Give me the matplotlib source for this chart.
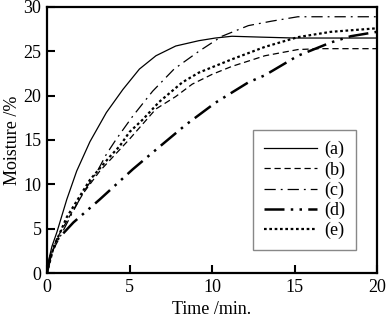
import numpy as np
import matplotlib
matplotlib.use("Agg")
import matplotlib.pyplot as plt

plt.rcParams['font.family'] = ['Liberation Serif', 'DejaVu Serif']

# moisture curves (time in min, moisture in %)
t_a = [0, 0.06, 0.3, 0.6, 1.2, 1.8, 2.6, 3.6, 4.6, 5.6, 6.6, 7.8, 9.2, 10.2, 11.2, 13, 15, 17, 20]
m_a = [0, 1.1, 3.0, 4.6, 8.3, 11.5, 14.8, 18.1, 20.7, 23.0, 24.5, 25.6, 26.2, 26.5, 26.7, 26.6, 26.5, 26.5, 26.5]

t_b = [0, 0.2, 0.6, 1.4, 2.2, 3.2, 4.4, 5.0, 6.6, 7.8, 8.8, 10.0, 11.2, 13.2, 15.2, 16.5, 18, 20]
m_b = [0, 1.8, 3.9, 6.5, 9.0, 11.5, 13.9, 15.1, 18.5, 19.9, 21.3, 22.4, 23.3, 24.5, 25.2, 25.3, 25.3, 25.3]

t_c = [0, 0.2, 0.8, 1.4, 2.2, 3.0, 3.6, 4.2, 5.2, 6.4, 7.7, 9.2, 10.6, 12.2, 13.6, 15.2, 17, 20]
m_c = [0, 2.0, 4.1, 6.3, 9.1, 11.3, 13.4, 15.1, 17.7, 20.5, 23.0, 25.0, 26.7, 27.9, 28.4, 28.9, 28.9, 28.9]

t_d = [0, 0.2, 0.6, 1.6, 3.2, 5.2, 6.6, 8.4, 10.2, 12.2, 13.2, 15.2, 17.2, 18.4, 20]
m_d = [0, 1.8, 3.7, 5.7, 8.3, 11.7, 13.9, 16.7, 19.2, 21.5, 22.3, 24.5, 26.0, 26.7, 27.2]

t_e = [0, 0.4, 1.2, 2.6, 3.8, 4.4, 5.0, 5.8, 6.8, 8.2, 9.2, 11.2, 13.2, 15.2, 17.2, 20]
m_e = [0, 2.9, 6.3, 10.5, 13.1, 14.3, 15.9, 17.3, 19.3, 21.5, 22.6, 24.1, 25.5, 26.6, 27.2, 27.6]

labels = ['(a)', '(b)', '(c)', '(d)', '(e)']

fig = plt.figure(figsize=(3.87, 3.18), dpi=100)
ax = fig.add_axes([0.1214, 0.1415, 0.853, 0.8365])

ax.plot(t_a, m_a, color='black', lw=0.9, ls='-', label=labels[0])
ax.plot(t_b, m_b, color='black', lw=0.9, ls=(0, (5, 3)), label=labels[1])
ax.plot(t_c, m_c, color='black', lw=0.9, ls=(0, (9, 4, 1.5, 4)), label=labels[2])
ax.plot(t_d, m_d, color='black', lw=1.8, ls=(0, (8, 2.5, 1, 2.5, 1, 2.5)), label=labels[3])
ax.plot(t_e, m_e, color='black', lw=1.6, ls=(0, (1.2, 1.2)), label=labels[4])

ax.set_xlim(0, 20)
ax.set_ylim(0, 30)
ax.set_xticks([0, 5, 10, 15, 20])
ax.set_yticks([0, 5, 10, 15, 20, 25, 30])
ax.tick_params(direction='in', length=6, width=1.5, labelsize=13, pad=4)
for s in ax.spines.values():
    s.set_linewidth(1.6)

ax.set_xlabel('Time /min.', fontsize=13, labelpad=4)
ax.set_ylabel('Moisture /%', fontsize=13, labelpad=2)

leg = ax.legend(loc='lower left', bbox_to_anchor=(0.624, 0.086), borderaxespad=0,
                fontsize=13, handlelength=2.95, handletextpad=0.4, labelspacing=0.16,
                borderpad=0.6, fancybox=False, framealpha=1)
leg.get_frame().set_edgecolor('#888888')
leg.get_frame().set_linewidth(1.0)

fig.savefig('out.png', dpi=100)
